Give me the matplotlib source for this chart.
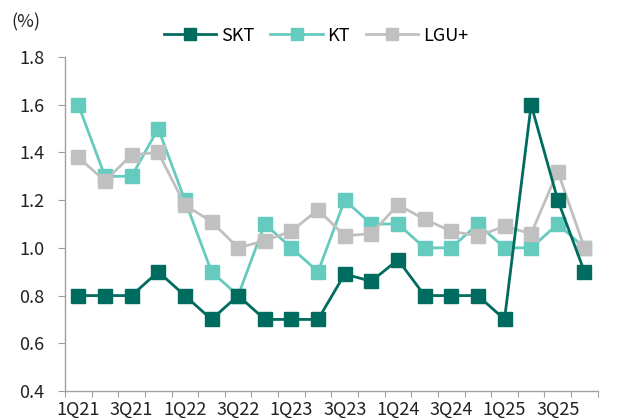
import matplotlib
matplotlib.use('Agg')
import matplotlib.pyplot as plt
import numpy as np

plt.rcParams['font.family'] = ['Noto Sans CJK KR', 'DejaVu Sans']

quarters = ['1Q21', '2Q21', '3Q21', '4Q21', '1Q22', '2Q22', '3Q22', '4Q22',
            '1Q23', '2Q23', '3Q23', '4Q23', '1Q24', '2Q24', '3Q24', '4Q24',
            '1Q25', '2Q25', '3Q25', '4Q25']
skt = [0.80, 0.80, 0.80, 0.90, 0.80, 0.70, 0.80, 0.70, 0.70, 0.70,
       0.89, 0.86, 0.95, 0.80, 0.80, 0.80, 0.70, 1.60, 1.20, 0.90]
kt = [1.60, 1.30, 1.30, 1.50, 1.20, 0.90, 0.80, 1.10, 1.00, 0.90,
      1.20, 1.10, 1.10, 1.00, 1.00, 1.10, 1.00, 1.00, 1.10, 1.00]
lgu = [1.38, 1.28, 1.39, 1.40, 1.18, 1.11, 1.00, 1.03, 1.07, 1.16,
       1.05, 1.06, 1.18, 1.12, 1.07, 1.05, 1.09, 1.06, 1.32, 1.00]

x = np.arange(len(quarters))

fig = plt.figure(figsize=(6.22, 4.18), dpi=100)
ax = fig.add_axes([0.1045, 0.0646, 0.8565, 0.799])

ax.plot(x, kt, color='#66CBBF', lw=2, marker='s', ms=10, label='KT', zorder=2)
ax.plot(x, lgu, color='#C0C0C0', lw=2, marker='s', ms=10, label='LGU+', zorder=3)
ax.plot(x, skt, color='#006B5F', lw=2, marker='s', ms=10, label='SKT', zorder=4)

ax.set_xlim(-0.5, len(quarters) - 0.5)
ax.set_ylim(0.4, 1.8)
ax.set_yticks(np.arange(0.4, 1.81, 0.2))
ax.set_yticklabels(['%.1f' % v for v in np.arange(0.4, 1.81, 0.2)])

# tick marks between categories, labels every second quarter
ax.set_xticks(np.arange(-0.5, len(quarters), 1.0))
ax.set_xticklabels([])
ax.set_xticks(x[::2], minor=True)
ax.set_xticklabels(quarters[::2], minor=True)
ax.tick_params(axis='x', which='minor', length=0, pad=7)
ax.tick_params(axis='x', which='major', length=4, color='#A0A0A0', direction='out')
ax.tick_params(axis='y', length=5, color='#A0A0A0', pad=10)
ax.tick_params(which='both', labelsize=13, labelcolor='#222222')

for s in ['top', 'right']:
    ax.spines[s].set_visible(False)
for s in ['left', 'bottom']:
    ax.spines[s].set_color('#A0A0A0')
    ax.spines[s].set_linewidth(1)

h, l = ax.get_legend_handles_labels()
order = [2, 0, 1]
fig.legend([h[i] for i in order], [l[i] for i in order], loc='center',
           bbox_to_anchor=(0.508, 0.915), ncol=3, frameon=False, fontsize=13,
           handlelength=2.9, columnspacing=0.9, handletextpad=0.25, markerscale=0.8)

fig.text(0.018, 0.935, '(%)', fontsize=13, color='#222222')

fig.savefig('out.png', dpi=100)
